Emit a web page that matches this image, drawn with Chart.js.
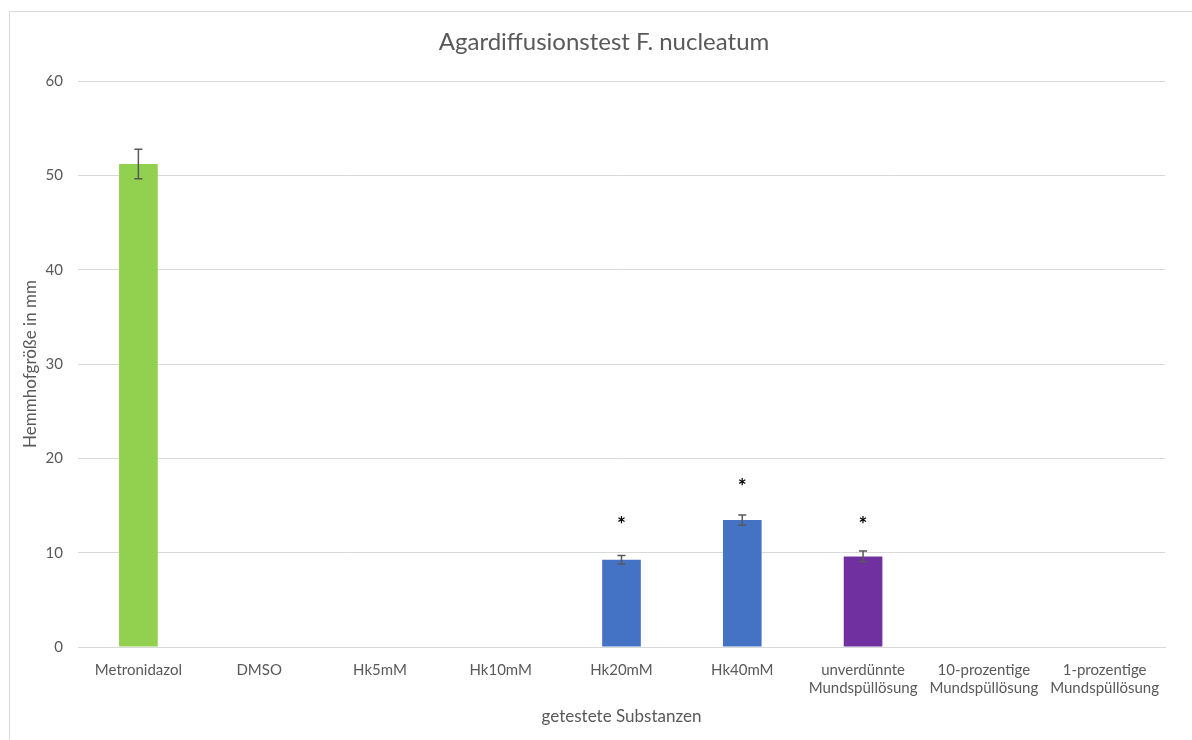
<!DOCTYPE html>
<html lang="de">
<head>
<meta charset="utf-8">
<title>Agardiffusionstest F. nucleatum</title>
<script src="https://cdn.jsdelivr.net/npm/chart.js@4.4.1/dist/chart.umd.min.js"></script>
<style>
  html, body { margin: 0; padding: 0; background: #ffffff; overflow: hidden; }
  #wrap { position: relative; width: 1192px; height: 740px; }
  #frame { position: absolute; left: 9px; top: 11px; width: 1220px; height: 800px;
           border: 1px solid #d9d9d9; box-sizing: border-box; }
  #chart { position: absolute; left: 0; top: 0; }
</style>
</head>
<body>
<div id="wrap">
  <div id="frame"></div>
  <canvas id="chart" width="1192" height="740"></canvas>
</div>
<script>
// Tested substances (x categories)
const categories = [
  'Metronidazol', 'DMSO', 'Hk5mM', 'Hk10mM', 'Hk20mM', 'Hk40mM',
  ['unverdünnte', 'Mundspüllösung'],
  ['10-prozentige', 'Mundspüllösung'],
  ['1-prozentige', 'Mundspüllösung']
];
// Mean inhibition zone size in mm
const zoneSizes = [51.2, 0, 0, 0, 9.25, 13.45, 9.6, 0, 0];
// Standard deviation (symmetric error bars)
const zoneErrors = [1.57, 0, 0, 0, 0.45, 0.55, 0.57, 0, 0];
// Height (in mm on the value axis) of the significance asterisk, null = none
const significance = [null, null, null, null, 13.4, 17.5, 13.4, null, null];
// Bar fill per substance
const barColors = ['#92d050', '#4472c4', '#4472c4', '#4472c4', '#4472c4', '#4472c4',
                   '#7030a0', '#7030a0', '#7030a0'];
// Value axis ticks
const yTicks = [0, 10, 20, 30, 40, 50, 60];

const FONT = 'Lato, "Open Sans", "Liberation Sans", sans-serif';
const GREY = '#595959';

// Draws error bars and significance stars on top of the bars
const barExtras = {
  id: 'barExtras',
  afterDatasetsDraw(chart) {
    const ctx = chart.ctx;
    const meta = chart.getDatasetMeta(0);
    const y = chart.scales.y;
    ctx.save();
    meta.data.forEach((bar, i) => {
      const err = zoneErrors[i];
      if (err > 0) {
        const top = y.getPixelForValue(zoneSizes[i] + err);
        const bot = y.getPixelForValue(zoneSizes[i] - err);
        const cap = 4;
        ctx.strokeStyle = GREY;
        ctx.lineWidth = 1.5;
        ctx.beginPath();
        ctx.moveTo(bar.x, top); ctx.lineTo(bar.x, bot);
        ctx.moveTo(bar.x - cap, top); ctx.lineTo(bar.x + cap, top);
        ctx.moveTo(bar.x - cap, bot); ctx.lineTo(bar.x + cap, bot);
        ctx.stroke();
      }
      if (significance[i] !== null) {
        ctx.fillStyle = '#000000';
        ctx.font = 'bold 21px ' + FONT;
        ctx.textAlign = 'center';
        ctx.textBaseline = 'middle';
        ctx.fillText('*', bar.x, y.getPixelForValue(significance[i]) + 5);
      }
    });
    ctx.restore();
  }
};

new Chart(document.getElementById('chart'), {
  type: 'bar',
  data: {
    labels: categories,
    datasets: [{
      data: zoneSizes,
      backgroundColor: barColors,
      borderWidth: 0,
      barPercentage: 0.32,
      categoryPercentage: 1.0
    }]
  },
  options: {
    responsive: false,
    animation: false,
    layout: { padding: { left: 16, right: 0, top: 0, bottom: 0 } },
    plugins: {
      legend: { display: false },
      tooltip: { enabled: false },
      title: {
        display: true,
        text: 'Agardiffusionstest F. nucleatum',
        color: GREY,
        font: { family: FONT, size: 24, weight: 'normal' },
        padding: { top: 27.6, bottom: 24.6 }
      }
    },
    scales: {
      x: {
        grid: { display: false, drawTicks: false },
        border: { display: true, color: '#d9d9d9', width: 1 },
        ticks: {
          color: GREY,
          font: { family: FONT, size: 15 },
          padding: 14,
          maxRotation: 0,
          autoSkip: false
        },
        title: {
          display: true,
          text: 'getestete Substanzen',
          color: GREY,
          font: { family: FONT, size: 17 },
          padding: { top: 0, bottom: 13 }
        },
        afterFit(scale) { scale.height = 93; }
      },
      y: {
        min: 0,
        max: 60,
        afterBuildTicks(scale) { scale.ticks = yTicks.map(v => ({ value: v })); },
        grid: { color: '#d9d9d9', lineWidth: 1, drawTicks: false },
        border: { display: false },
        ticks: {
          color: GREY,
          font: { family: FONT, size: 15 },
          padding: 15
        },
        title: {
          display: true,
          text: 'Hemmhofgröße in mm',
          color: GREY,
          font: { family: FONT, size: 17 },
          padding: { top: 4, bottom: 0 }
        },
        afterFit(scale) { scale.width = 62; }
      },
      y2: {
        position: 'right',
        display: true,
        grid: { display: false, drawTicks: false },
        border: { display: false },
        ticks: { display: false },
        afterFit(scale) { scale.width = 27; }
      }
    }
  },
  plugins: [barExtras]
});
</script>
</body>
</html>
